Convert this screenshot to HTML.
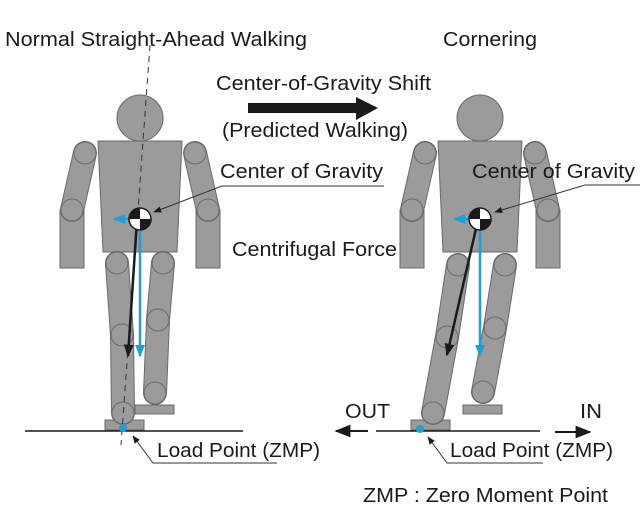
<!DOCTYPE html>
<html><head><style>html,body{margin:0;padding:0;background:#fff}svg{display:block}</style></head><body>
<svg width="640" height="514" viewBox="0 0 640 514" xmlns="http://www.w3.org/2000/svg" font-family="Liberation Sans, Arial, sans-serif" fill="#1a1a1a">
<defs>
<marker id="ab" viewBox="0 0 10 10" refX="9" refY="5" markerWidth="5" markerHeight="5" orient="auto-start-reverse"><path d="M0,1 L10,5 L0,9 z" fill="#1a1a1a"/></marker>
<marker id="ac" viewBox="0 0 10 10" refX="9" refY="5" markerWidth="5" markerHeight="5" orient="auto-start-reverse"><path d="M0,1 L10,5 L0,9 z" fill="#1ba1d8"/></marker>
<marker id="at" viewBox="0 0 10 10" refX="9" refY="5" markerWidth="8" markerHeight="8" orient="auto"><path d="M0,1 L10,5 L0,9 z" fill="#1a1a1a"/></marker>
</defs>
<!-- big arrow -->
<rect x="248" y="103" width="110" height="10" fill="#1a1a1a"/>
<path d="M356,97 L378,108 L356,120 z" fill="#1a1a1a"/>

<!-- figure 1 -->
<g stroke="#6a6a6a" stroke-width="1" fill="#9b9b9b">
<rect x="105" y="420" width="39" height="10"/>
<rect x="135" y="405" width="39" height="9"/>
<circle cx="140" cy="118" r="23"/>
<rect x="60" y="210" width="24" height="58"/>
<rect x="196" y="210" width="24" height="58"/>
</g>
<g stroke-linecap="round">
<line x1="85" y1="153" x2="72" y2="210" stroke="#6a6a6a" stroke-width="24"/>
<line x1="85" y1="153" x2="72" y2="210" stroke="#9b9b9b" stroke-width="22"/>
<line x1="195" y1="153" x2="208" y2="210" stroke="#6a6a6a" stroke-width="24"/>
<line x1="195" y1="153" x2="208" y2="210" stroke="#9b9b9b" stroke-width="22"/>
</g>
<g stroke="#6a6a6a" fill="#9b9b9b">
<circle cx="85" cy="153" r="11"/><circle cx="72" cy="210" r="11"/>
<circle cx="195" cy="153" r="11"/><circle cx="208" cy="210" r="11"/>
<path d="M98,141 L182,141 L177,252 L103,252 z"/>
</g>
<g stroke-linecap="round">
<polyline points="117,263 122,335 123,413" fill="none" stroke="#6a6a6a" stroke-width="24" stroke-linejoin="round"/>
<polyline points="117,263 122,335 123,413" fill="none" stroke="#9b9b9b" stroke-width="22" stroke-linejoin="round"/>
<polyline points="163,263 158,320 155,393" fill="none" stroke="#6a6a6a" stroke-width="24" stroke-linejoin="round"/>
<polyline points="163,263 158,320 155,393" fill="none" stroke="#9b9b9b" stroke-width="22" stroke-linejoin="round"/>
</g>
<g stroke="#6a6a6a" fill="#9b9b9b">
<circle cx="117" cy="263" r="11"/><circle cx="122" cy="335" r="11"/><circle cx="123" cy="413" r="11"/>
<circle cx="163" cy="263" r="11"/><circle cx="158" cy="320" r="11"/><circle cx="155" cy="393" r="11"/>
</g>
<line x1="150" y1="45" x2="121" y2="445" stroke="#333" stroke-width="1" stroke-dasharray="6,5"/>

<!-- figure 2 -->
<g stroke="#6a6a6a" stroke-width="1" fill="#9b9b9b">
<rect x="411" y="420" width="39" height="10"/>
<rect x="463" y="405" width="39" height="9"/>
<circle cx="480" cy="118" r="23"/>
<rect x="400" y="210" width="24" height="58"/>
<rect x="536" y="210" width="24" height="58"/>
</g>
<g stroke-linecap="round">
<line x1="425" y1="153" x2="412" y2="210" stroke="#6a6a6a" stroke-width="24"/>
<line x1="425" y1="153" x2="412" y2="210" stroke="#9b9b9b" stroke-width="22"/>
<line x1="535" y1="153" x2="548" y2="210" stroke="#6a6a6a" stroke-width="24"/>
<line x1="535" y1="153" x2="548" y2="210" stroke="#9b9b9b" stroke-width="22"/>
</g>
<g stroke="#6a6a6a" fill="#9b9b9b">
<circle cx="425" cy="153" r="11"/><circle cx="412" cy="210" r="11"/>
<circle cx="535" cy="153" r="11"/><circle cx="548" cy="210" r="11"/>
<path d="M438,141 L522,141 L517,252 L443,252 z"/>
</g>
<g stroke-linecap="round">
<polyline points="458,265 447,337 433,413" fill="none" stroke="#6a6a6a" stroke-width="24"/>
<polyline points="458,265 447,337 433,413" fill="none" stroke="#9b9b9b" stroke-width="22"/>
<polyline points="505,265 495,328 483,392" fill="none" stroke="#6a6a6a" stroke-width="24"/>
<polyline points="505,265 495,328 483,392" fill="none" stroke="#9b9b9b" stroke-width="22"/>
</g>
<g stroke="#6a6a6a" fill="#9b9b9b">
<circle cx="458" cy="265" r="11"/><circle cx="447" cy="337" r="11"/><circle cx="433" cy="413" r="11"/>
<circle cx="505" cy="265" r="11"/><circle cx="495" cy="328" r="11"/><circle cx="483" cy="392" r="11"/>
</g>

<!-- ground -->
<line x1="25" y1="431" x2="243" y2="431" stroke="#1a1a1a" stroke-width="1.5"/>
<line x1="376" y1="431" x2="540" y2="431" stroke="#1a1a1a" stroke-width="1.5"/>
<line x1="368" y1="431" x2="336" y2="431" stroke="#1a1a1a" stroke-width="2" marker-end="url(#at)"/>
<line x1="555" y1="432" x2="590" y2="432" stroke="#1a1a1a" stroke-width="2" marker-end="url(#at)"/>
<circle cx="123" cy="428" r="4" fill="#1ba1d8"/>
<circle cx="420" cy="429" r="4" fill="#1ba1d8"/>

<!-- vectors -->
<line x1="140" y1="222" x2="140" y2="356" stroke="#1ba1d8" stroke-width="2.5" marker-end="url(#ac)"/>
<line x1="137" y1="220" x2="128" y2="356" stroke="#1a1a1a" stroke-width="2.5" marker-end="url(#ab)"/>
<line x1="138" y1="219" x2="114" y2="219" stroke="#1ba1d8" stroke-width="2.5" marker-end="url(#ac)"/>
<line x1="480" y1="222" x2="480" y2="356" stroke="#1ba1d8" stroke-width="2.5" marker-end="url(#ac)"/>
<line x1="478" y1="220" x2="447" y2="355" stroke="#1a1a1a" stroke-width="2.5" marker-end="url(#ab)"/>
<line x1="478" y1="219" x2="454" y2="219" stroke="#1ba1d8" stroke-width="2.5" marker-end="url(#ac)"/>

<!-- COG symbols -->
<circle cx="140" cy="219" r="11" fill="#fff" stroke="#1a1a1a" stroke-width="1.5"/>
<path d="M140,219 L129,219 A11,11 0 0 1 140,208 z" fill="#1a1a1a"/>
<path d="M140,219 L151,219 A11,11 0 0 1 140,230 z" fill="#1a1a1a"/>
<circle cx="480" cy="219" r="11" fill="#fff" stroke="#1a1a1a" stroke-width="1.5"/>
<path d="M480,219 L469,219 A11,11 0 0 1 480,208 z" fill="#1a1a1a"/>
<path d="M480,219 L491,219 A11,11 0 0 1 480,230 z" fill="#1a1a1a"/>

<!-- leaders -->
<g fill="none" stroke="#333" stroke-width="1">
<polyline points="384,186 222,186 154,212" marker-end="url(#at)"/>
<polyline points="640,185 585,185 495,212" marker-end="url(#at)"/>
<polyline points="277,463 153,463 133,436" marker-end="url(#at)"/>
<polyline points="543,463 447,463 428,437" marker-end="url(#at)"/>
</g>

<g font-size="20">
<text x="5" y="46" textLength="302" lengthAdjust="spacingAndGlyphs">Normal Straight-Ahead Walking</text>
<text x="443" y="46" textLength="94" lengthAdjust="spacingAndGlyphs">Cornering</text>
<text x="216" y="90" textLength="215" lengthAdjust="spacingAndGlyphs">Center-of-Gravity Shift</text>
<text x="222" y="137" textLength="186" lengthAdjust="spacingAndGlyphs">(Predicted Walking)</text>
<text x="220" y="178" textLength="163" lengthAdjust="spacingAndGlyphs">Center of Gravity</text>
<text x="232" y="256" textLength="165" lengthAdjust="spacingAndGlyphs">Centrifugal Force</text>
<text x="472" y="178" textLength="163" lengthAdjust="spacingAndGlyphs">Center of Gravity</text>
<text x="345" y="418" textLength="45" lengthAdjust="spacingAndGlyphs">OUT</text>
<text x="580" y="418" textLength="22" lengthAdjust="spacingAndGlyphs">IN</text>
<text x="157" y="457" textLength="163" lengthAdjust="spacingAndGlyphs">Load Point (ZMP)</text>
<text x="450" y="457" textLength="163" lengthAdjust="spacingAndGlyphs">Load Point (ZMP)</text>
<text x="363" y="502" textLength="245" lengthAdjust="spacingAndGlyphs">ZMP :  Zero Moment Point</text>
</g>
</svg>
</body></html>
